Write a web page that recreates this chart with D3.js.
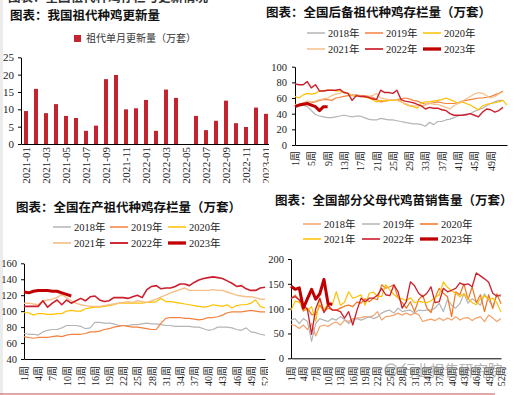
<!DOCTYPE html>
<html>
<head>
<meta charset="utf-8">
<script src="https://cdn.jsdelivr.net/npm/d3@7"></script>
<style>
body { margin: 0; background: #fff; }
svg text { font-family: "Liberation Serif", "Noto Sans CJK SC", serif; }
.title { font-family: "Noto Sans CJK SC", sans-serif; font-weight: bold; font-size: 12.5px; fill: #111; }
.cjk { font-family: "Noto Sans CJK SC", sans-serif; font-size: 10px; fill: #333; }
</style>
</head>
<body>
<svg width="520" height="395"></svg>
<script>
// ---- data ----

// chart 1: monthly grandparent renewal (10k sets), 2022-05 has no bar
const months = ["2021-01","2021-02","2021-03","2021-04","2021-05","2021-06","2021-07","2021-08","2021-09","2021-10","2021-11","2021-12",
                "2022-01","2022-02","2022-03","2022-04","2022-05","2022-06","2022-07","2022-08","2022-09","2022-10","2022-11","2022-12","2023-01"]
const monthlyUpdate = [9.5,15.9,8.9,11.5,8.1,7.5,3.8,5.3,18.7,19.9,10.0,10.3,
                       12.7,3.8,15.7,13.3,null,8.1,4.0,6.7,12.5,6.0,4.9,10.5,8.7]
const barTicks = [0,5,10,15,20,25]

// chart 2: reserve grandparent stock
const reserve2018 = [52,51,51,49,44,39,37,36,35,35,36,37,38,37,36,37,37,35,33,32,32,34,33,32,32,31,30,29,28,27,27,26,24,29,26,30,30,32,33,35,37,38,38,40,43,45,47,50,53,55,57,57]
const reserve2019 = [50,51,52,52,54,55,57,58,58,57,60,61,62,63,64,64,63,63,62,61,58,55,56,57,57,58,59,60,59,57,56,54,52,53,54,55,54,53,53,53,54,56,57,58,59,60,60,61,62,64,66,69]
const reserve2020 = [62,60,64,66,65,66,69,69,70,70,69,69,67,66,63,62,62,61,60,58,55,57,56,57,57,58,56,52,50,49,47,54,55,55,56,57,58,60,58,56,53,55,53,51,48,45,50,52,53,54,55,57,51]
const reserve2021 = [51,52,54,56,55,56,58,59,60,63,65,66,68,66,64,63,62,62,62,63,66,60,59,58,58,57,55,53,51,50,50,50,51,53,52,52,50,48,46,50,53,56,59,62,65,67,66,63,60,62,65,68]
const reserve2022 = [78,77,77,81,73,77,69,69,70,70,70,71,67,66,57,63,62,62,61,59,58,70,67,67,66,70,58,56,55,54,52,50,46,48,47,47,45,44,40,38,38,38,39,40,38,36,42,46,45,42,44,48]
const reserve2023 = [49,51,52,53,51,49,44,49,49]
const reserveTicks = [0,20,40,60,80,100]
const reserveWeeks = [1,5,9,13,17,21,25,29,33,37,41,45,49]

// chart 3: producing grandparent stock
const stock2018 = [72,71,71,70,74,76,77,77,79,82,82,82,81,78,79,86,86,85,85,84,82,82,82,83,83,84,85,84,84,83,82,82,81,81,81,81,80,80,78,76,77,80,80,80,79,77,76,79,74,73,71,70]
const stock2019 = [68,67,66,67,67,67,68,69,68,70,71,71,71,72,74,74,75,77,78,80,81,82,81,80,80,79,78,77,77,85,91,92,92,92,91,91,90,89,90,92,92,93,95,98,99,99,99,100,101,100,99,99]
const stock2020 = [98,98,95,97,97,96,96,97,97,100,101,100,100,103,104,105,105,106,107,108,110,110,110,110,110,110,111,111,112,116,112,112,111,110,109,108,107,106,105,106,108,107,106,108,104,107,108,108,110,114,106,104]
const stock2021 = [110,110,109,108,113,114,115,117,121,117,113,110,108,107,106,106,106,107,108,109,110,111,112,111,113,112,111,113,115,118,120,123,125,127,129,126,126,126,126,126,127,126,126,124,122,120,119,118,118,117,115,115]
const stock2022 = [106,106,106,106,113,105,110,114,108,114,110,113,116,113,118,119,114,112,113,117,117,117,116,118,120,117,127,131,132,128,129,129,131,134,134,132,136,139,141,142,143,142,141,138,135,131,132,128,126,126,129,130]
const stock2023 = [124,123,125,126,126,126,125,125,123,121,119]
const stockTicks = [40,60,80,100,120,140,160]

// chart 4: parent stock chick sales
const sales2018 = [68,66,60,67,58,70,45,64,67,64,70,73,67,77,74,80,81,82,84,83,86,94,77,84,85,87,91,87,91,87,91,88,74,77,79,76,81,76,81,77,84,77,81,82,76,81,84,74,87,81,74,80]
const sales2019 = [77,80,70,80,74,34,70,80,77,74,80,77,84,78,70,77,80,77,80,84,80,83,91,95,97,91,101,94,96,97,91,97,96,97,97,101,111,94,118,107,101,110,130,111,120,114,107,130,117,104,128,124]
const sales2020 = [120,127,117,95,101,88,88,107,94,101,98,97,101,105,107,104,113,111,120,114,121,118,148,141,144,148,122,112,101,114,94,118,127,101,92,122,141,131,124,84,134,128,150,118,144,112,128,94,128,100,130,110]
const sales2021 = [97,115,113,101,96,104,75,120,97,110,107,134,107,113,134,121,124,128,107,131,133,125,124,148,138,128,122,120,116,122,112,115,113,112,116,122,128,154,143,136,131,124,130,120,112,108,120,126,118,121,112,93]
const sales2022 = [121,124,118,108,98,48,100,121,92,107,97,97,94,81,94,67,96,121,114,121,121,127,141,128,126,148,134,101,114,154,146,131,124,131,144,112,114,141,134,137,141,152,148,150,144,172,166,160,153,131,125,128]
const sales2023 = [145,139,142,101,120,139,119,130,159,110,109]
const salesTicks = [0,50,100,150,200]

const weekTicks = [1,4,7,10,13,16,19,22,25,28,31,34,37,40,43,46,49,52]
const years = ["2018年","2019年","2020年","2021年","2022年","2023年"]

const fontSerif = '"Liberation Serif","Noto Sans CJK SC",serif'
const barColor = '#c3242f'

const svg = d3.select('svg')

// light strip on the left edge of the page
svg.append('rect').attr('x', 0).attr('y', 0).attr('width', 3).attr('height', 395).attr('fill', '#ececec')

// heading of the page above, mostly cut off
svg.append('text').attr('class', 'title').attr('x', 8).attr('y', 2).style('fill', '#333')
	.text('图表：全国祖代种鸡存栏与更新情况')

// rotate the tick labels of a bottom axis
const rotateLabels = (sel, gap) => {
	sel.selectAll('text')
		.attr('transform', 'rotate(-90)')
		.attr('text-anchor', 'end')
		.attr('x', -gap)
		.attr('y', 0)
		.attr('dy', '0.35em')
}

const styleAxis = (g, size = 10) => {
	g.attr('font-family', fontSerif).attr('font-size', size)
	g.selectAll('text').attr('fill', '#222')
	g.selectAll('path, line').attr('stroke', '#000')
}

// ---------------- chart 1: bars ----------------
const p1 = svg.append('g')
p1.append('text').attr('class', 'title').attr('x', 10).attr('y', 20).text('图表：我国祖代种鸡更新量')

p1.append('rect').attr('x', 74).attr('y', 35).attr('width', 7).attr('height', 7).attr('fill', barColor)
p1.append('text').attr('class', 'cjk').attr('x', 86).attr('y', 42).text('祖代单月更新量（万套）')

const x1 = d3.scaleBand().domain(months).range([21, 271]).paddingInner(0.6).paddingOuter(0.3)
const y1 = d3.scaleLinear().domain([0, 25]).range([144, 57.3])

const barData = months.map((m, i) => ({month: m, value: monthlyUpdate[i]})).filter(d => d.value != null)

p1.selectAll('rect.bar')
	.data(barData)
	.join('rect')
	.attr('class', 'bar')
	.attr('x', d => x1(d.month))
	.attr('width', x1.bandwidth())
	.attr('y', d => y1(d.value))
	.attr('height', d => y1(0) - y1(d.value))
	.attr('fill', barColor)

p1.append('g')
	.attr('transform', 'translate(0,144)')
	.call(d3.axisBottom(x1).tickValues(months.filter((d, i) => i % 2 === 0)).tickSize(0).tickSizeOuter(0))
	.call(g => styleAxis(g, 11))
	.call(g => rotateLabels(g, 3))

p1.append('g')
	.attr('transform', 'translate(21,0)')
	.call(d3.axisLeft(y1).tickValues(barTicks).tickSize(3).tickPadding(4).tickSizeOuter(0))
	.call(g => styleAxis(g, 11))

// generic weekly line chart
const linePanel = (o) => {
	const g = svg.append('g')
	g.append('rect').attr('x', o.bg[0]).attr('y', o.bg[1]).attr('width', o.bg[2]).attr('height', o.bg[3]).attr('fill', '#fff')
	g.append('text').attr('class', 'title').attr('x', o.title[0]).attr('y', o.title[1]).text(o.title[2])

	const x = d3.scaleLinear().domain(o.xDomain).range(o.xRange)
	const y = d3.scaleLinear().domain(o.yDomain).range(o.yRange)

	// legend, two rows of three
	o.series.forEach((s, i) => {
		const lx = o.legendX[i % 3]
		const ly = o.legendY[Math.floor(i / 3)]
		g.append('line').attr('x1', lx).attr('x2', lx + 18).attr('y1', ly).attr('y2', ly)
			.attr('stroke', s.color).attr('stroke-width', s.width + 0.3)
		g.append('text').attr('x', lx + 21).attr('y', ly + 3.5)
			.attr('font-size', 10.5).attr('fill', '#222').text(years[i])
	})

	g.append('g')
		.attr('transform', `translate(0,${o.yRange[0]})`)
		.call(d3.axisBottom(x).tickValues(o.xTicks).tickFormat(d => d + '周').tickSize(0).tickSizeOuter(0))
		.call(a => styleAxis(a, 10))
		.call(a => rotateLabels(a, o.labelGap))

	g.append('g')
		.attr('transform', `translate(${o.xRange[0]},0)`)
		.call(d3.axisLeft(y).tickValues(o.yTicks).tickSize(3).tickPadding(o.yPad).tickSizeOuter(0))
		.call(a => styleAxis(a, 10.5))

	const line = d3.line().x((d, i) => x(i + 1)).y(d => y(d))

	g.selectAll('path.series')
		.data(o.series)
		.join('path')
		.attr('class', 'series')
		.attr('d', d => line(d.values))
		.attr('fill', 'none')
		.attr('stroke', d => d.color)
		.attr('stroke-width', d => d.width)
		.attr('stroke-linejoin', 'round')
}

// ---------------- chart 2 ----------------
linePanel({
	bg: [269, 0, 251, 192],
	title: [266, 17, '图表：全国后备祖代种鸡存栏量（万套）'],
	xDomain: [1, 53], xRange: [295, 507],
	yDomain: [0, 100], yRange: [145, 66.7],
	xTicks: reserveWeeks, yTicks: reserveTicks, labelGap: 6, yPad: 5,
	legendX: [307, 365, 423], legendY: [33, 49],
	series: [
		{values: reserve2018, color: '#b5b5b5', width: 1.2},
		{values: reserve2019, color: '#f4813f', width: 1.2},
		{values: reserve2020, color: '#ffc000', width: 1.2},
		{values: reserve2021, color: '#f5c08a', width: 1.2},
		{values: reserve2022, color: '#cc1f2d', width: 1.4},
		{values: reserve2023, color: '#c00000', width: 3}
	]
})

// ---------------- chart 3 ----------------
linePanel({
	bg: [0, 192, 0, 0],
	title: [16, 212, '图表：全国在产祖代种鸡存栏量（万套）'],
	xDomain: [1, 52], xRange: [24, 265],
	yDomain: [40, 160], yRange: [359, 263.3],
	xTicks: weekTicks, yTicks: stockTicks, labelGap: 7, yPad: 4,
	legendX: [53, 110, 168], legendY: [227, 243],
	series: [
		{values: stock2018, color: '#b5b5b5', width: 1.2},
		{values: stock2019, color: '#f4813f', width: 1.2},
		{values: stock2020, color: '#ffc000', width: 1.2},
		{values: stock2021, color: '#f5c08a', width: 1.4},
		{values: stock2022, color: '#cc1f2d', width: 1.6},
		{values: stock2023, color: '#c00000', width: 3}
	]
})

// ---------------- chart 4 ----------------
linePanel({
	bg: [268, 192, 252, 203],
	title: [275, 205, '图表：全国部分父母代鸡苗销售量（万套）'],
	xDomain: [1, 52], xRange: [291, 501],
	yDomain: [0, 200], yRange: [358.3, 259],
	xTicks: weekTicks, yTicks: salesTicks, labelGap: 8, yPad: 4,
	legendX: [303, 362, 420], legendY: [224, 239],
	series: [
		{values: sales2018, color: '#f4a26b', width: 1.2},
		{values: sales2019, color: '#b5b5b5', width: 1.2},
		{values: sales2020, color: '#f07422', width: 1.2},
		{values: sales2021, color: '#ffc000', width: 1.2},
		{values: sales2022, color: '#cc1f2d', width: 1.3},
		{values: sales2023, color: '#c00000', width: 3}
	]
})

// red rule at the foot of the page
svg.append('line').attr('x1', 0).attr('x2', 495).attr('y1', 394).attr('y2', 394)
	.attr('stroke', '#c0504d').attr('stroke-width', 1)

// watermark
const wm = svg.append('g').attr('opacity', 0.55)
wm.append('circle').attr('cx', 391).attr('cy', 370).attr('r', 6).attr('fill', 'none').attr('stroke', '#888').attr('stroke-width', 1.5)
wm.append('text').attr('x', 401).attr('y', 376).attr('font-size', 14.5)
	.attr('font-family', '"Noto Sans CJK SC",sans-serif').attr('fill', '#777').text('行业报告研究院')
</script>
</body>
</html>
